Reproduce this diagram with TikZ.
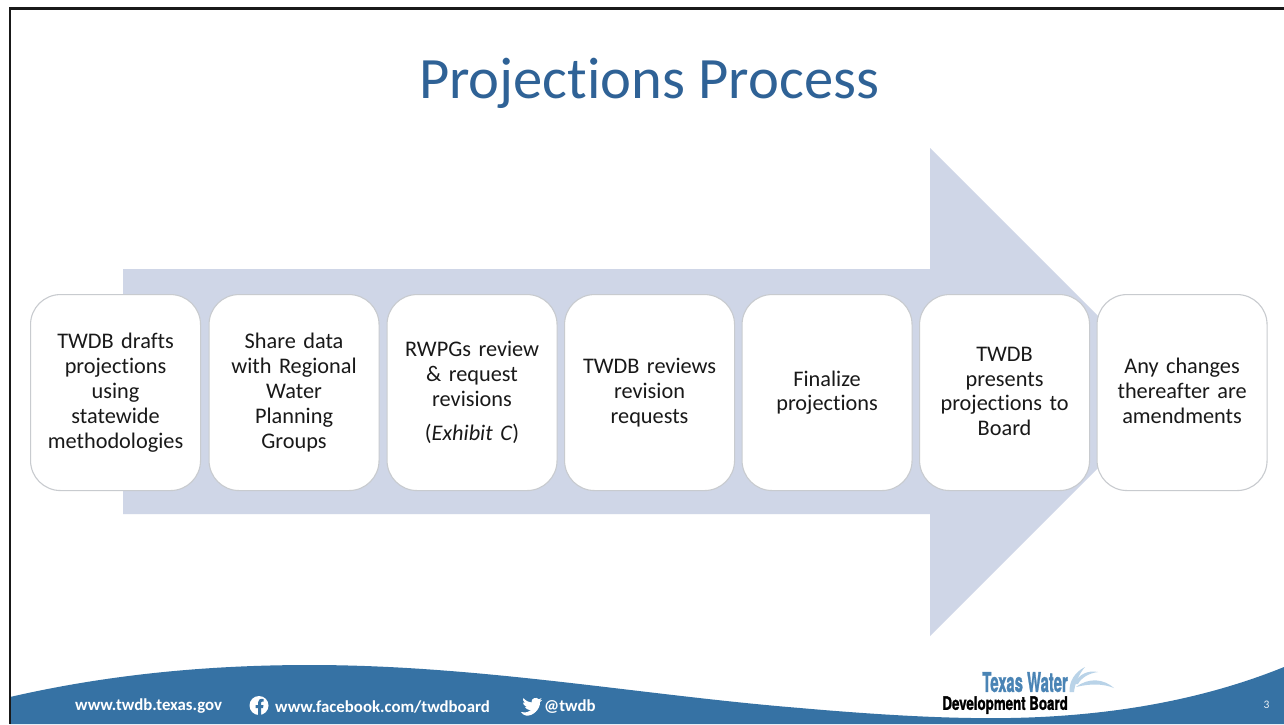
\documentclass[tikz,border=0pt]{standalone}
\usepackage{graphicx}
\usepackage{fontspec}
\setmainfont[Ligatures=NoCommon]{Carlito}
\newfontfamily\logofont[BoldFeatures={FakeBold=1.6}]{TeX Gyre Heros}
\newcommand\topstrut{\rule{0pt}{19.4pt}}
\definecolor{arrowfill}{HTML}{CFD6E7}
\definecolor{titleblue}{HTML}{2F6296}
\definecolor{footblue}{HTML}{3672A4}
\definecolor{logoblue}{HTML}{4A84B5}
\definecolor{spray}{HTML}{B9D3E8}
\definecolor{boxline}{HTML}{C8CBCF}
\tikzset{
  x=1pt,y=-1pt,
  stepbox/.style={draw=boxline,line width=1.1pt,fill=white,rounded corners=30pt,
    minimum width=170pt,minimum height=196pt,inner sep=0pt,anchor=north west,
    align=center,text width=160pt,font=\fontsize{22.3}{24.8}\selectfont,text=black!90},
  foot/.style={text=white,font=\fontsize{16.8}{18}\selectfont\bfseries,inner sep=0pt,anchor=west},
}
\begin{document}
\begin{tikzpicture}
\useasboundingbox (0,0) rectangle (1284,724);
\fill[white] (0,0) rectangle (1284,724);
% footer wave
\fill[footblue] (10,697) .. controls (110,674) and (210,665) .. (310,665)
  .. controls (480,665) and (640,695) .. (800,708)
  .. controls (880,715) and (950,719) .. (1010,718)
  .. controls (1120,716) and (1210,697) .. (1284,667)
  -- (1284,724) -- (10,724) -- cycle;
% slide frame
\draw[black!90,line width=2.4pt] (10,724) -- (10,8.5) -- (1284,8.5);
% title
\node[text=titleblue,font=\fontsize{58.6}{60}\selectfont,inner sep=0pt] (title) at (649,83) {Projections Process};
% big arrow
\fill[arrowfill] (123,269) -- (930,269) -- (930,148) -- (1174,392) -- (930,636) -- (930,514) -- (123,514) -- cycle;
% boxes
\node[stepbox] (b1) at (30,294) {\topstrut TWDB drafts\\projections\\using\\statewide\\methodologies\strut};
\node[stepbox] (b2) at (208.5,294) {\topstrut Share data\\with Regional\\Water\\Planning\\Groups\strut};
\node[stepbox] (b3) at (386.5,294) {\topstrut RWPGs review\\\&~request\\revisions\\[9pt](\textit{Exhibit C})\strut};
\node[stepbox] (b4) at (564,294) {\topstrut TWDB reviews\\revision\\requests\strut};
\node[stepbox] (b5) at (741.5,294) {\topstrut Finalize\\projections\strut};
\node[stepbox] (b6) at (919,294) {\topstrut TWDB\\presents\\projections to\\Board\strut};
\node[stepbox] (b7) at (1096.5,294) {\topstrut Any changes\\thereafter are\\amendments\strut};
% footer text
\node[foot] (web) at (75,706.5) {www.twdb.texas.gov};
\fill[white] (259,705.5) circle (9.5pt);
\fill[footblue] (258,715.5) -- (258,708) -- (255.5,708) -- (255.5,705) -- (258,705) -- (258,702.5)
  .. controls (258,699.5) and (260,698.5) .. (263.5,699) -- (263.5,701.5)
  .. controls (261.5,701.3) and (261,702) .. (261,703) -- (261,705) -- (263.5,705) -- (263,708) -- (261,708) -- (261,715.5) -- cycle;
\node[foot] (fb) at (275,706.5) {www.facebook.com/twdboard};
\fill[white] (521,712) .. controls (526,713) and (529,712) .. (531,710)
  .. controls (527,710) and (525.5,708) .. (525,707)
  .. controls (526,707) and (526.5,707) .. (527,706.8)
  .. controls (524,706) and (523,704) .. (523,702.5)
  .. controls (523.5,702.8) and (524,703) .. (525,703)
  .. controls (522.5,701) and (522.8,699) .. (523.5,698)
  .. controls (526,701) and (529,702.5) .. (531.5,702.5)
  .. controls (531,698) and (536.5,696.5) .. (538.8,699.2)
  .. controls (539.8,699) and (540.8,698.6) .. (541.5,698.2)
  .. controls (541.2,699.3) and (540.5,700) .. (539.8,700.6)
  .. controls (540.5,700.5) and (541.3,700.3) .. (542,700)
  .. controls (541.4,700.9) and (540.6,701.6) .. (540,702.2)
  .. controls (540.3,709) and (533,716.5) .. (526,715.5)
  .. controls (524,715.2) and (522,714) .. (521,712) -- cycle;
\node[foot] (tw) at (544,706.5) {@twdb};
\node[text=white!90!footblue,font=\fontsize{11.5}{12}\selectfont,inner sep=0pt] (pg) at (1266.5,705) {3};
% logo
\node[inner sep=0pt,anchor=east,align=right,font=\logofont\bfseries\fontsize{18.5}{18}\selectfont] (logo) at (1068,693)
  {\scalebox{0.55}[1]{\color{logoblue}\fontsize{27}{18}\selectfont Texas Water}\hspace{2pt}\\\scalebox{0.72}[1]{Development Board}};
\fill[spray] (1069.5,692) .. controls (1069,681) and (1075,672) .. (1085,667) .. controls (1079,674) and (1075,683) .. (1074,692) -- cycle;
\fill[spray] (1074,684) .. controls (1079,674) and (1088,670) .. (1098,672) .. controls (1089,673) and (1081,678) .. (1078,684) -- cycle;
\fill[spray] (1076,687) .. controls (1089,677) and (1104,679) .. (1114,688) .. controls (1103,683.5) and (1090,683.5) .. (1076,687) -- cycle;
\end{tikzpicture}
\end{document}
